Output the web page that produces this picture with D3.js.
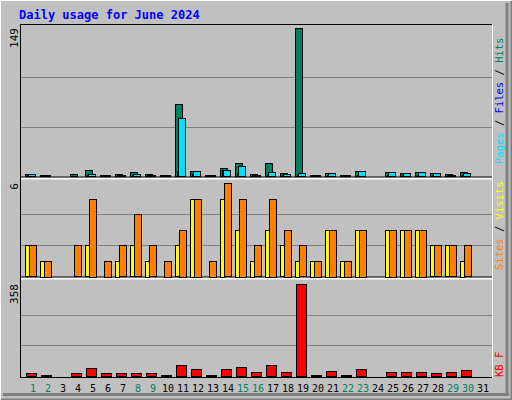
<!DOCTYPE html><html><head><script src="https://cdn.jsdelivr.net/npm/d3@7"></script>
<style>body{margin:0;background:#c0c0c0}</style></head><body><svg id="c" width="512" height="400"></svg>
<script>
const days=d3.range(1,32);
const weekend=[1,2,8,9,15,16,22,23,29,30];
const hits=[2,1,0,2,6,1,2,4,2,1,72,5,1,8,13,2,13,3,149,1,3,1,5,0,4,3,4,3,2,4,0];
const files=[2,1,0,0,2,1,1,2,1,1,58,5,1,6,10,1,4,2,3,1,3,1,5,0,4,3,4,3,1,3,0];
const pages=[1,1,0,0,1,1,1,1,1,1,5,2,1,6,3,1,1,1,1,1,1,1,1,0,1,1,1,1,1,1,0];
const sites=[2,1,0,0,2,0,1,2,1,0,2,5,0,5,3,1,3,2,1,1,3,1,3,0,3,3,3,2,2,1,0];
const visits=[2,1,0,2,5,1,2,4,2,1,3,5,1,6,5,2,5,3,2,1,3,1,3,0,3,3,3,2,2,2,0];
const kbytes=[12,5,0,12,31,12,12,12,12,5,43,27,5,27,35,16,43,16,358,5,19,5,27,0,16,16,16,12,16,23,0];
const maxes=[149,6,358];
const svg=d3.select("#c");
svg.append("rect").attr("width",512).attr("height",400).attr("fill","#c0c0c0");
svg.append("path").attr("d","M0.5,399.5V0.5H511.5").attr("stroke","#fff").attr("fill","none");
svg.append("path").attr("d","M1,399.5H511.5V1").attr("stroke","#808080").attr("fill","none").attr("stroke-width",2);
svg.append("path").attr("d","M3,394.5H509").attr("stroke","#808080").attr("stroke-width",3);
svg.append("path").attr("d","M507,3V395").attr("stroke","#808080").attr("stroke-width",3);
svg.append("text").attr("x",19).attr("y",19).text("Daily usage for June 2024").attr("fill","#0000ff")
 .attr("font-family","DejaVu Sans Mono").attr("font-weight","bold").attr("font-size",12);
svg.append("rect").attr("x",20.5).attr("y",24.5).attr("width",472).attr("height",353).attr("fill","#c0c0c0").attr("stroke","#000");
svg.append("line").attr("x1",492.5).attr("x2",492.5).attr("y1",24).attr("y2",378).attr("stroke","#fff");
const x=d3.scaleLinear().domain([1,31]).range([33,483]);
const panels=[[28,176],[183,276],[284,376]];
const mono="DejaVu Sans Mono";
panels.forEach((p,i)=>{
  const y=d3.scaleLinear().domain([0,maxes[i]]).range([p[1],p[0]]);
  [1/3,2/3].forEach(f=>svg.append("line").attr("x1",21).attr("x2",492).attr("y1",Math.round(y(maxes[i]*f))+.5).attr("y2",Math.round(y(maxes[i]*f))+.5).attr("stroke","#808080"));
  svg.append("text").attr("transform",`translate(18,${p[0]}) rotate(-90)`).attr("text-anchor","end")
   .attr("font-family",mono).attr("font-size",11).text(maxes[i]);
  p.y=y;
});
[178.5,278.5].forEach(v=>{svg.append("line").attr("x1",21).attr("x2",492).attr("y1",v).attr("y2",v).attr("stroke","#fff").attr("stroke-width",2);
 svg.append("line").attr("x1",21).attr("x2",492).attr("y1",v-1.5).attr("y2",v-1.5).attr("stroke","#000");});
function bars(vals,y,off,w,col){
  svg.append("g").selectAll("rect").data(vals).join("rect")
   .attr("x",(d,i)=>Math.round(x(i+1))+off+.5).attr("width",w)
   .attr("y",d=>Math.round(y(d))+.5).attr("height",d=>Math.max(0,Math.round(y(0)-y(d))))
   .attr("fill",col).attr("stroke","#000").attr("display",d=>d>0?null:"none");
}
const y0=panels[0].y,y1=panels[1].y,y2=panels[2].y;
bars(hits,y0,-8,7,"#008060");
bars(files,y0,-5,7,"#00e0ff");
bars(pages,y0,-6,1,"#0000ff");
bars(sites,y1,-8,4,"#ffff00");
bars(visits,y1,-4,7,"#ff8000");
bars(kbytes,y2,-7,10,"#ff0000");
svg.append("g").selectAll("text").data(days).join("text").attr("x",d=>x(d)).attr("y",392)
 .attr("text-anchor","middle").attr("font-family",mono).attr("font-size",10)
 .attr("fill",d=>weekend.includes(d)?"#008060":"#000").text(d=>d);
function side(parts,yb){
  const t=svg.append("text").attr("transform",`translate(503,${yb}) rotate(-90)`).attr("font-family",mono).attr("font-size",10.5);
  parts.forEach(([s,c])=>t.append("tspan").text(s).attr("fill",c));
}
side([["Pages","#00e0ff"],[" / ","#000"],["Files","#0000ff"],[" / ","#000"],["Hits","#008060"]],164);
side([["Sites","#ff8000"],[" / ","#000"],["Visits","#ffff00"]],270);
side([["KB F","#ff0000"]],377);
</script></body></html>
